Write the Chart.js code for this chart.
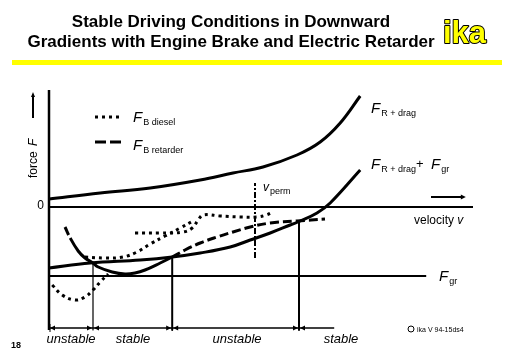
<!DOCTYPE html>
<html lang="en">
<head>
<meta charset="UTF-8">
<title>Stable Driving Conditions in Downward Gradients</title>
<script src="https://cdn.jsdelivr.net/npm/chart.js"></script>
<style>
  html, body { margin: 0; padding: 0; background: #fff; }
  canvas { display: block; }
</style>
</head>
<body>
<canvas id="grafico" width="512" height="354"></canvas>
<script>
// velocity v / force F in arbitrary units
const dragV = [0, 12.8, 25.3, 37.8, 46, 53.5, 62, 67.8, 72.8, 77.8];
const dragF = [4, 7, 9.5, 13.5, 17, 20, 26, 32.5, 42, 55.5];

const dragGrV = [0, 10.3, 22.8, 30.8, 37.8, 45.3, 50.3, 55.3, 60.3, 62.8, 67, 70.3, 77.8];
const dragGrF = [-30.5, -28, -26.5, -25, -23, -20, -16.5, -13, -9, -7, -3, 2, 18.5];

const gradeV = [0, 94.3];
const gradeF = [-34.5, -34.5];

const retarderV = [4, 5.3, 7.3, 9, 11, 12.3, 15.8, 19, 21.5, 24, 27.8, 30.8, 34, 37.8, 42, 46, 50.3, 55.3, 62, 69];
const retarderF = [-10, -15.5, -22, -25.5, -28, -30, -32.5, -33.5, -33, -31.5, -28, -25, -21.5, -18, -15, -12.5, -10, -8, -7, -6];

const diesel1V = [0.8, 3.3, 6.5, 9, 11, 12.8, 14.8];
const diesel1F = [-39, -44, -46.5, -45, -41.5, -37.5, -33.5];
const diesel2V = [9, 14, 18.5, 22, 25.3, 29, 32.8, 36];
const diesel2F = [-25, -25.5, -25, -22.5, -18.5, -14.5, -10.5, -7];
const diesel3V = [21.5, 27.8, 33.5, 35.8, 37.3, 38.5, 42.8, 47.8, 52, 54.3, 56];
const diesel3F = [-13, -13, -12.5, -10.5, -6.5, -4, -4.5, -5, -5, -4, -2.5];

const vPerm = 51.5;
const vPermF = [-25.5, 12];

// stable / unstable zones
const zoneEdges = [0, 11, 30.8, 62.5, 71.3];
const stopTopF = [-28, -25, -7];
const zoneNames = ['unstable', 'stable', 'unstable', 'stable'];
const zoneLabelV = [5.5, 21, 47, 73];

const vMax = 106, fMin = -61.5, fMax = 58.5, bracketF = -60.5;

function pts(xs, ys) { return xs.map((x, i) => ({ x: x, y: ys[i] })); }
function linie(data, width, dash, tension) {
    return { data: data, showLine: true, borderColor: '#000', borderWidth: width,
             borderDash: dash || [], pointRadius: 0, tension: tension || 0,
             clip: false, borderCapStyle: 'butt', borderJoinStyle: 'round' };
}

const datasets = [
    linie(pts([0, 0], [fMin, fMax]), 2.5),
    linie(pts([0, vMax], [0, 0]), 2),
    linie(pts(gradeV, gradeF), 2),
    linie(pts(dragV, dragF), 3, [], 0.4),
    linie(pts(dragGrV, dragGrF), 3, [], 0.4),
    linie(pts(diesel1V, diesel1F), 3, [3, 4], 0.4),
    linie(pts(diesel2V, diesel2F), 3, [3, 4], 0.4),
    linie(pts(diesel3V, diesel3F), 3, [3, 4], 0.4),
    linie(pts([vPerm, vPerm], vPermF), 2, [6, 2, 2, 2]),
    linie(pts([zoneEdges[0], zoneEdges[4]], [bracketF, bracketF]), 1.5)
];
const ret = linie(pts(retarderV, retarderF), 3, [9, 4], 0.4);
ret.segment = {
    borderDash: c => (c.p0.parsed.x >= 5.3 && c.p1.parsed.x <= 30.8) ? [] : [9, 4]
};
datasets.push(ret);
stopTopF.forEach((f, i) => {
    datasets.push(linie(pts([zoneEdges[i + 1], zoneEdges[i + 1]], [f, fMin]), i === 0 ? 1.2 : 2));
});

const SANS = '"Liberation Sans", Arial, sans-serif';

function mitIndex(c, x, y, main, sub, size, subSize) {
    c.font = 'italic ' + size + 'px ' + SANS;
    c.fillText(main, x, y);
    const w = c.measureText(main).width + 1;
    c.font = subSize + 'px ' + SANS;
    c.fillText(sub, x + w, y + 3);
    return x + w + c.measureText(sub).width;
}

function pfeil(c, x, y, dir) {
    // small filled arrowhead, tip at (x,y), dir = 1 right, -1 left
    c.beginPath();
    c.moveTo(x, y);
    c.lineTo(x - dir * 5, y - 2.5);
    c.lineTo(x - dir * 5, y + 2.5);
    c.closePath();
    c.fill();
}

const overlay = {
    id: 'overlay',
    afterDraw(chart) {
        const c = chart.ctx;
        const X = v => chart.scales.x.getPixelForValue(v);
        const Y = f => chart.scales.y.getPixelForValue(f);
        c.save();
        c.fillStyle = '#000';
        c.strokeStyle = '#000';

        // title
        c.textAlign = 'center';
        c.font = 'bold 17px ' + SANS;
        c.fillText('Stable Driving Conditions in Downward', 231, 27);
        c.fillText('Gradients with Engine Brake and Electric Retarder', 231, 47);

        // logo
        c.textAlign = 'left';
        c.font = 'bold 31px ' + SANS;
        c.lineWidth = 2;
        c.lineJoin = 'round';
        c.strokeText('ika', 443, 43);
        c.fillStyle = '#ffff00';
        c.fillText('ika', 443, 43);
        c.fillRect(12, 60, 490, 5);
        c.fillStyle = '#000';

        // legend swatches
        c.lineWidth = 3;
        c.lineCap = 'butt';
        c.setLineDash([3, 4]);
        c.beginPath(); c.moveTo(95, 117); c.lineTo(121, 117); c.stroke();
        c.setLineDash([11, 4]);
        c.beginPath(); c.moveTo(95, 142); c.lineTo(121, 142); c.stroke();
        c.setLineDash([]);
        mitIndex(c, 133, 122, 'F', 'B diesel', 15, 9);
        mitIndex(c, 133, 150, 'F', 'B retarder', 15, 9);

        // curve labels
        mitIndex(c, 371, 113, 'F', 'R + drag', 15, 9);
        mitIndex(c, 371, 169, 'F', 'R + drag', 15, 9);
        c.font = '13px ' + SANS;
        c.fillText('+', 416, 168);
        mitIndex(c, 431, 169, 'F', 'gr', 15, 9);
        mitIndex(c, 439, 281, 'F', 'gr', 15, 9);
        mitIndex(c, X(vPerm) + 8, 191, 'v', 'perm', 12, 9);

        // velocity axis label and arrow
        c.font = '12px ' + SANS;
        c.fillText('velocity ', 414, 224);
        const wv = c.measureText('velocity ').width;
        c.font = 'italic 12px ' + SANS;
        c.fillText('v', 414 + wv, 224);
        c.lineWidth = 2;
        c.beginPath(); c.moveTo(X(95.5), Y(5)); c.lineTo(X(103), Y(5)); c.stroke();
        pfeil(c, X(104.2), Y(5), 1);

        // force axis label and arrow
        c.save();
        c.translate(37, 178);
        c.rotate(-Math.PI / 2);
        c.font = '12px ' + SANS;
        c.fillText('force ', 0, 0);
        const wf = c.measureText('force ').width;
        c.font = 'italic 12px ' + SANS;
        c.fillText('F', wf + 2, 0);
        c.restore();
        c.lineWidth = 2;
        c.beginPath(); c.moveTo(33, 118); c.lineTo(33, 96); c.stroke();
        c.beginPath(); c.moveTo(33, 92); c.lineTo(31, 97); c.lineTo(35, 97); c.closePath(); c.fill();

        c.font = '12px ' + SANS;
        c.textAlign = 'right';
        c.fillText('0', 44, 209);

        // zone brackets
        const yb = Y(bracketF);
        for (let i = 0; i < zoneNames.length; i++) {
            const a = X(zoneEdges[i]), b = X(zoneEdges[i + 1]);
            pfeil(c, a + 1, yb, -1);
            if (i < zoneNames.length - 1) pfeil(c, b - 1, yb, 1);
        }
        c.lineWidth = 1;
        c.beginPath(); c.moveTo(X(0) + 1, yb - 4); c.lineTo(X(0) + 1, yb + 4); c.stroke();
        c.textAlign = 'center';
        c.font = 'italic 13px ' + SANS;
        zoneNames.forEach((n, i) => c.fillText(n, X(zoneLabelV[i]), 343));

        // footer
        c.textAlign = 'left';
        c.font = 'bold 9px ' + SANS;
        c.fillText('18', 11, 348);
        c.font = '7px ' + SANS;
        c.lineWidth = 1;
        c.beginPath(); c.arc(411, 329, 3, 0, 2 * Math.PI); c.stroke();
        c.fillText('ika V 94-15ds4', 417, 332);
        c.restore();
    }
};

new Chart(document.getElementById('grafico'), {
    type: 'scatter',
    data: { datasets: datasets },
    options: {
        responsive: false,
        animation: false,
        devicePixelRatio: 1,
        layout: { padding: { left: 49, right: 512 - 49 - 424, top: 90, bottom: 24 } },
        scales: {
            x: { type: 'linear', min: 0, max: vMax, display: false },
            y: { type: 'linear', min: fMin, max: fMax, display: false }
        },
        plugins: { legend: { display: false }, tooltip: { enabled: false } }
    },
    plugins: [overlay]
});
</script>
</body>
</html>
